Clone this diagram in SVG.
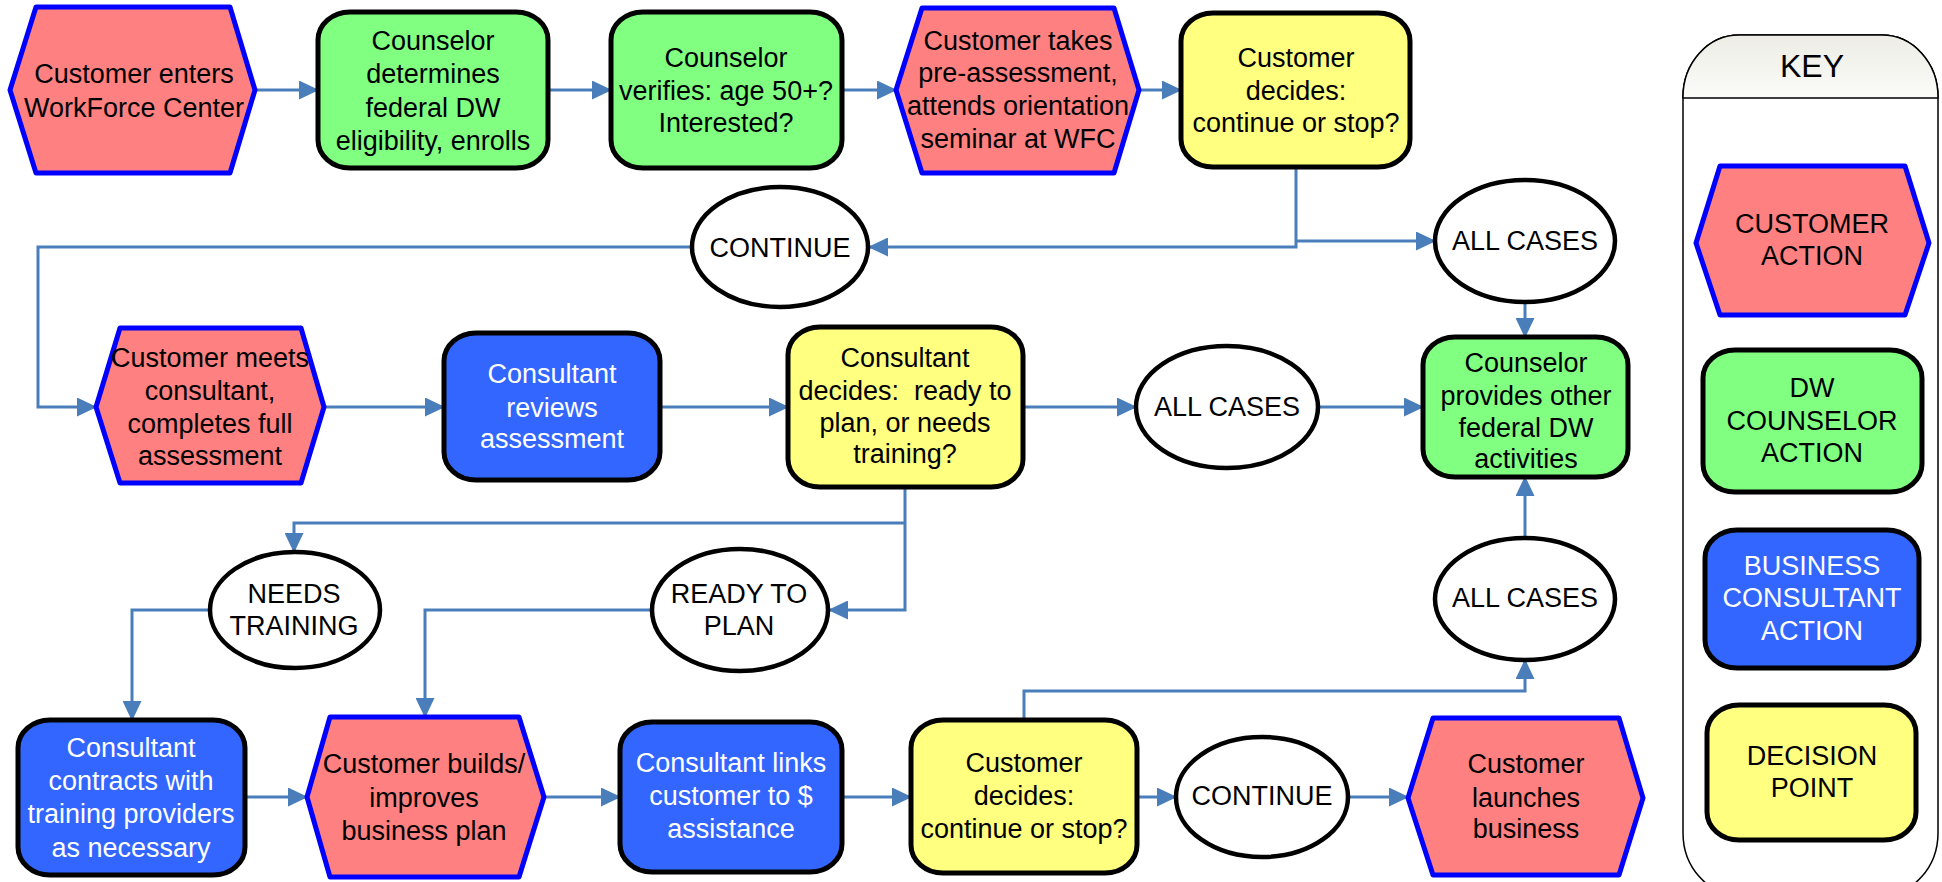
<svg xmlns="http://www.w3.org/2000/svg" width="1942" height="882" viewBox="0 0 1942 882">
<defs>
<marker id="arr" markerUnits="userSpaceOnUse" markerWidth="20" markerHeight="19" refX="19" refY="9.5" orient="auto">
<path d="M0,0 L20,9.5 L0,19 Z" fill="#4A7EBB"/>
</marker>
<linearGradient id="hdr" x1="0" y1="0" x2="0" y2="1">
<stop offset="0" stop-color="#ededE6"/>
<stop offset="1" stop-color="#fbfbf8"/>
</linearGradient>
</defs>
<style>
text{font-family:"Liberation Sans",Arial,sans-serif;font-size:27px;text-anchor:middle;fill:#000}
.w{fill:#fff}
.hex{fill:#FF8080;stroke:#0000FF;stroke-width:5;stroke-linejoin:round}
.grn{fill:#80FF80;stroke:#000;stroke-width:5}
.yel{fill:#FFFF80;stroke:#000;stroke-width:5}
.blu{fill:#3366FF;stroke:#000;stroke-width:5}
.ell{fill:#fff;stroke:#000;stroke-width:4.5}
.c{fill:none;stroke:#4A7EBB;stroke-width:3}
</style>
<rect width="1942" height="882" fill="#fff"/>

<g id="key">
<rect x="1683" y="35" width="255" height="860" rx="56" ry="62" fill="#fff" stroke="#000" stroke-width="1.5"/>
<path d="M1683,98 V97 A56,62 0 0 1 1739,35 H1882 A56,62 0 0 1 1938,97 V98 Z" fill="url(#hdr)" stroke="#000" stroke-width="1.5"/>
<text x="1812" y="77" style="font-size:32px">KEY</text>
<g id="key-customer">
<polygon class="hex" points="1696,243 1720,166 1905,166 1929,243 1905,315 1720,315"/>
<text x="1812" y="233">CUSTOMER</text>
<text x="1812" y="265">ACTION</text>
</g>
<g id="key-counselor">
<rect class="grn" x="1703" y="350" width="219" height="142" rx="32" ry="28"/>
<text x="1812" y="397">DW</text>
<text x="1812" y="430">COUNSELOR</text>
<text x="1812" y="462">ACTION</text>
</g>
<g id="key-consultant">
<rect class="blu" x="1705" y="530" width="214" height="138" rx="32" ry="28"/>
<text class="w" x="1812" y="575">BUSINESS</text>
<text class="w" x="1812" y="607">CONSULTANT</text>
<text class="w" x="1812" y="640">ACTION</text>
</g>
<g id="key-decision">
<rect class="yel" x="1707" y="705" width="209" height="135" rx="32" ry="28"/>
<text x="1812" y="765">DECISION</text>
<text x="1812" y="797">POINT</text>
</g>
</g>

<g id="connectors">
<path class="c" d="M255,90 H318" marker-end="url(#arr)"/>
<path class="c" d="M548,90 H611" marker-end="url(#arr)"/>
<path class="c" d="M842,90 H896" marker-end="url(#arr)"/>
<path class="c" d="M1139,90 H1181" marker-end="url(#arr)"/>
<path class="c" d="M1296,167 V247 H869" marker-end="url(#arr)"/>
<path class="c" d="M1296,241 H1435" marker-end="url(#arr)"/>
<path class="c" d="M1525,302 V337" marker-end="url(#arr)"/>
<path class="c" d="M692,247 H38 V407 H96" marker-end="url(#arr)"/>
<path class="c" d="M324,407 H444" marker-end="url(#arr)"/>
<path class="c" d="M660,407 H788" marker-end="url(#arr)"/>
<path class="c" d="M1023,407 H1136" marker-end="url(#arr)"/>
<path class="c" d="M1318,407 H1423" marker-end="url(#arr)"/>
<path class="c" d="M905,487 V610 H829" marker-end="url(#arr)"/>
<path class="c" d="M905,523 H294 V552" marker-end="url(#arr)"/>
<path class="c" d="M210,610 H132 V720" marker-end="url(#arr)"/>
<path class="c" d="M652,610 H425 V717" marker-end="url(#arr)"/>
<path class="c" d="M245,797 H307" marker-end="url(#arr)"/>
<path class="c" d="M544,797 H620" marker-end="url(#arr)"/>
<path class="c" d="M842,797 H911" marker-end="url(#arr)"/>
<path class="c" d="M1137,797 H1176" marker-end="url(#arr)"/>
<path class="c" d="M1349,797 H1408" marker-end="url(#arr)"/>
<path class="c" d="M1024,720 V691 H1525 V660" marker-end="url(#arr)"/>
<path class="c" d="M1525,538 V477" marker-end="url(#arr)"/>
</g>

<g id="n1">
<polygon class="hex" points="10,90 36,7 230,7 255,90 230,173 36,173"/>
<text x="134" y="83">Customer enters</text>
<text x="134" y="117">WorkForce Center</text>
</g>
<g id="n2">
<rect class="grn" x="318" y="12" width="230" height="156" rx="32" ry="28"/>
<text x="433" y="50">Counselor</text>
<text x="433" y="83">determines</text>
<text x="433" y="117">federal DW</text>
<text x="433" y="150">eligibility, enrolls</text>
</g>
<g id="n3">
<rect class="grn" x="611" y="12" width="231" height="156" rx="32" ry="28"/>
<text x="726" y="67">Counselor</text>
<text x="726" y="100">verifies: age 50+?</text>
<text x="726" y="132">Interested?</text>
</g>
<g id="n4">
<polygon class="hex" points="896,90 922,8 1114,8 1139,90 1114,173 922,173"/>
<text x="1018" y="50">Customer takes</text>
<text x="1018" y="82">pre-assessment,</text>
<text x="1018" y="115">attends orientation</text>
<text x="1018" y="148">seminar at WFC</text>
</g>
<g id="n5">
<rect class="yel" x="1181" y="13" width="229" height="154" rx="32" ry="28"/>
<text x="1296" y="67">Customer</text>
<text x="1296" y="100">decides:</text>
<text x="1296" y="132">continue or stop?</text>
</g>
<g id="e-continue1">
<ellipse class="ell" cx="780" cy="247" rx="88" ry="60"/>
<text x="780" y="257">CONTINUE</text>
</g>
<g id="e-all1">
<ellipse class="ell" cx="1525" cy="241" rx="90" ry="61"/>
<text x="1525" y="250">ALL CASES</text>
</g>
<g id="n6">
<polygon class="hex" points="96,407 120,328 301,328 324,407 301,483 120,483"/>
<text x="210" y="367">Customer meets</text>
<text x="210" y="400">consultant,</text>
<text x="210" y="433">completes full</text>
<text x="210" y="465">assessment</text>
</g>
<g id="n7">
<rect class="blu" x="444" y="333" width="216" height="147" rx="32" ry="28"/>
<text class="w" x="552" y="383">Consultant</text>
<text class="w" x="552" y="417">reviews</text>
<text class="w" x="552" y="448">assessment</text>
</g>
<g id="n8">
<rect class="yel" x="788" y="327" width="235" height="160" rx="32" ry="28"/>
<text x="905" y="367">Consultant</text>
<text x="905" y="400" xml:space="preserve">decides:  ready to</text>
<text x="905" y="432">plan, or needs</text>
<text x="905" y="463">training?</text>
</g>
<g id="e-all2">
<ellipse class="ell" cx="1227" cy="407" rx="91" ry="61"/>
<text x="1227" y="416">ALL CASES</text>
</g>
<g id="n9">
<rect class="grn" x="1423" y="337" width="205" height="140" rx="32" ry="28"/>
<text x="1526" y="372">Counselor</text>
<text x="1526" y="405">provides other</text>
<text x="1526" y="437">federal DW</text>
<text x="1526" y="468">activities</text>
</g>
<g id="e-needs">
<ellipse class="ell" cx="295" cy="610" rx="85" ry="58"/>
<text x="294" y="603">NEEDS</text>
<text x="294" y="635">TRAINING</text>
</g>
<g id="e-ready">
<ellipse class="ell" cx="740" cy="610" rx="88" ry="61"/>
<text x="739" y="603">READY TO</text>
<text x="739" y="635">PLAN</text>
</g>
<g id="e-all3">
<ellipse class="ell" cx="1525" cy="599" rx="90" ry="61"/>
<text x="1525" y="607">ALL CASES</text>
</g>
<g id="n13">
<rect class="blu" x="18" y="720" width="227" height="155" rx="32" ry="28"/>
<text class="w" x="131" y="757">Consultant</text>
<text class="w" x="131" y="790">contracts with</text>
<text class="w" x="131" y="823">training providers</text>
<text class="w" x="131" y="857">as necessary</text>
</g>
<g id="n10">
<polygon class="hex" points="307,797 330,717 519,717 544,797 519,877 330,877"/>
<text x="424" y="773">Customer builds/</text>
<text x="424" y="807">improves</text>
<text x="424" y="840">business plan</text>
</g>
<g id="n11">
<rect class="blu" x="620" y="722" width="222" height="150" rx="32" ry="28"/>
<text class="w" x="731" y="772">Consultant links</text>
<text class="w" x="731" y="805">customer to $</text>
<text class="w" x="731" y="838">assistance</text>
</g>
<g id="n12">
<rect class="yel" x="911" y="720" width="226" height="153" rx="32" ry="28"/>
<text x="1024" y="772">Customer</text>
<text x="1024" y="805">decides:</text>
<text x="1024" y="838">continue or stop?</text>
</g>
<g id="e-continue2">
<ellipse class="ell" cx="1262" cy="797" rx="86" ry="60"/>
<text x="1262" y="805">CONTINUE</text>
</g>
<g id="n14">
<polygon class="hex" points="1408,798 1433,718 1619,718 1643,798 1619,875 1433,875"/>
<text x="1526" y="773">Customer</text>
<text x="1526" y="807">launches</text>
<text x="1526" y="838">business</text>
</g>
</svg>
